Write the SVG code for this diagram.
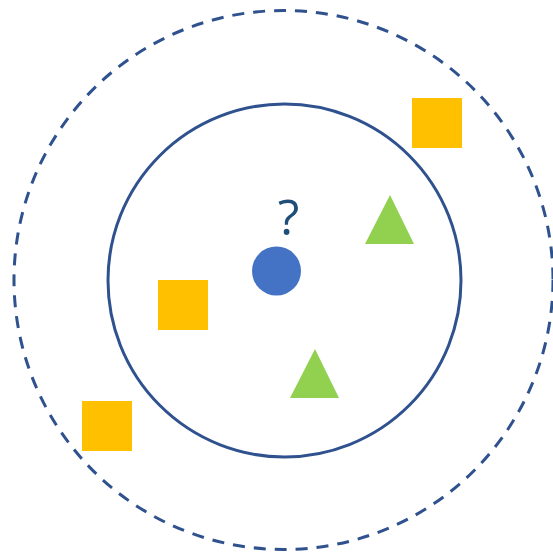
<svg xmlns="http://www.w3.org/2000/svg" width="553" height="552" viewBox="0 0 553 552">
<style>
.ring{fill:none;stroke:#2f528f;stroke-width:3}
.sq{fill:#ffc000}
.tri{fill:#92d050}
</style>
<rect width="553" height="552" fill="#fff"/>
<g id="outer-ring"><circle class="ring" cx="283.5" cy="280" r="269.5" stroke-dasharray="12 9"/></g>
<g id="inner-ring"><circle class="ring" cx="284.5" cy="280.5" r="176.5"/></g>
<g id="query"><circle cx="276.5" cy="271" r="24.5" fill="#4472c4"/></g>
<g id="qmark"><text x="288.5" y="235" font-family="Open Sans, Liberation Sans, sans-serif" font-size="50" fill="#1f4e79" text-anchor="middle">?</text></g>
<g id="sq1"><rect class="sq" x="412" y="98" width="50" height="50"/></g>
<g id="sq2"><rect class="sq" x="158" y="280" width="50" height="50"/></g>
<g id="sq3"><rect class="sq" x="82" y="401" width="50" height="50"/></g>
<g id="tri1"><polygon class="tri" points="365,244 390,195 414,244"/></g>
<g id="tri2"><polygon class="tri" points="290,398 315,349 339,398"/></g>
</svg>
